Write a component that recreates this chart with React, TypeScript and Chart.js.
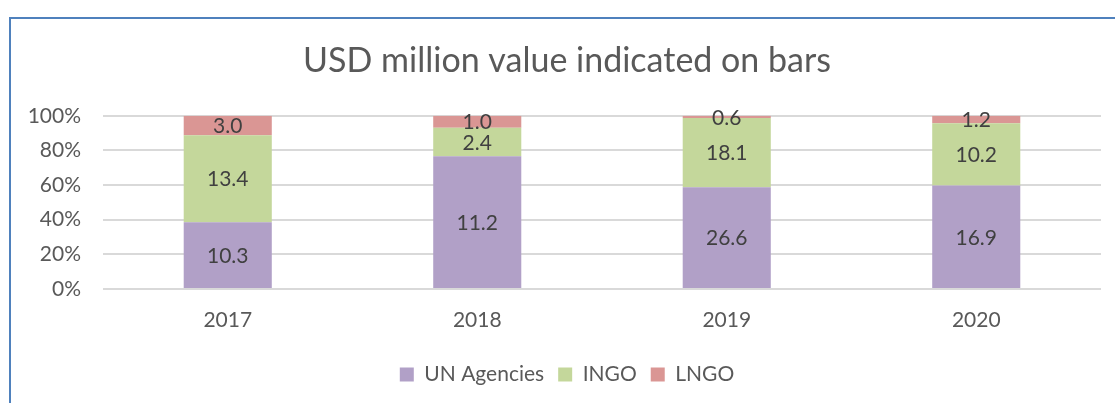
import React, { useEffect, useRef } from "react";
import { Chart, registerables } from "chart.js";

Chart.register(...registerables);

const years = ["2017", "2018", "2019", "2020"];
const unAgencies = [10.3, 11.2, 26.6, 16.9];
const ingo = [13.4, 2.4, 18.1, 10.2];
const lngo = [3.0, 1.0, 0.6, 1.2];
const yTicks = [0, 20, 40, 60, 80, 100];
const titleText = "USD million value indicated on bars";

const totals = years.map((_, i) => unAgencies[i] + ingo[i] + lngo[i]);
const pct = (arr: number[]) => arr.map((v, i) => (v / totals[i]) * 100);

const FONT = "Lato, 'Open Sans', sans-serif";

const valueLabels = {
  id: "valueLabels",
  afterDatasetsDraw(chart: any) {
    const ctx = chart.ctx;
    ctx.save();
    ctx.font = `21px ${FONT}`;
    ctx.fillStyle = "#404040";
    ctx.textAlign = "center";
    ctx.textBaseline = "middle";
    chart.data.datasets.forEach((ds: any, di: number) => {
      const meta = chart.getDatasetMeta(di);
      meta.data.forEach((bar: any, i: number) => {
        const raw = ds.raw[i] as number;
        const yc = (bar.y + bar.base) / 2;
        ctx.fillText(raw.toFixed(1), bar.x, yc + 1);
      });
    });
    ctx.restore();
  },
};

export default function App() {
  const ref = useRef<HTMLCanvasElement>(null);
  useEffect(() => {
    if (!ref.current) return;
    const chart = new Chart(ref.current, {
      type: "bar",
      data: {
        labels: years,
        datasets: [
          { label: "UN Agencies", data: pct(unAgencies), raw: unAgencies, backgroundColor: "#B1A0C7" } as any,
          { label: "INGO", data: pct(ingo), raw: ingo, backgroundColor: "#C4D79B" } as any,
          { label: "LNGO", data: pct(lngo), raw: lngo, backgroundColor: "#DA9694" } as any,
        ],
      },
      options: {
        animation: false,
        responsive: false,
        maintainAspectRatio: false,
        datasets: { bar: { categoryPercentage: 1, barPercentage: 0.353 } },
        layout: { padding: { left: 20, right: 1, top: 0, bottom: 8 } },
        plugins: {
          title: {
            display: true,
            text: titleText,
            color: "#595959",
            font: { family: FONT, size: 34, weight: "normal" },
            padding: { top: 41, bottom: 34 },
          },
          legend: {
            position: "bottom",
            labels: {
              boxWidth: 14,
              boxHeight: 14,
              color: "#595959",
              font: { family: FONT, size: 21 },
              padding: 14,
            },
          },
          tooltip: { enabled: false },
        },
        scales: {
          x: {
            stacked: true,
            grid: { display: false },
            border: { display: false },
            ticks: { color: "#595959", font: { family: FONT, size: 21 }, padding: 11 },
            afterFit: (s: any) => { s.height = 61; },
          },
          y: {
            stacked: true,
            min: 0,
            max: 100,
            afterBuildTicks: (s: any) => { s.ticks = yTicks.map((v) => ({ value: v })); },
            ticks: {
              color: "#595959",
              font: { family: FONT, size: 21 },
              padding: 22,
              callback: (v: any) => `${v}%`,
            },
            grid: { color: "#D9D9D9", lineWidth: 2, drawTicks: false },
            border: { display: false },
            afterFit: (s: any) => { s.width = 83; },
          },
          yRight: {
            position: "right",
            display: true,
            grid: { display: false, drawTicks: false },
            border: { display: false },
            ticks: { display: false },
            afterFit: (s: any) => { s.width = 13; },
          },
        },
      },
      plugins: [valueLabels],
    });
    return () => chart.destroy();
  }, []);
  return (
    <div style={{ position: "absolute", left: 0, top: 0, width: 1115, height: 403, background: "#fff", overflow: "hidden" }}>
      <div
        style={{
          position: "absolute",
          left: 9,
          top: 17,
          width: 1200,
          height: 500,
          borderTop: "2px solid #4F81BD",
          borderLeft: "2px solid #4F81BD",
          boxSizing: "border-box",
        }}
      />
      <canvas ref={ref} width={1115} height={403} style={{ position: "absolute", left: 0, top: 0 }} />
    </div>
  );
}
